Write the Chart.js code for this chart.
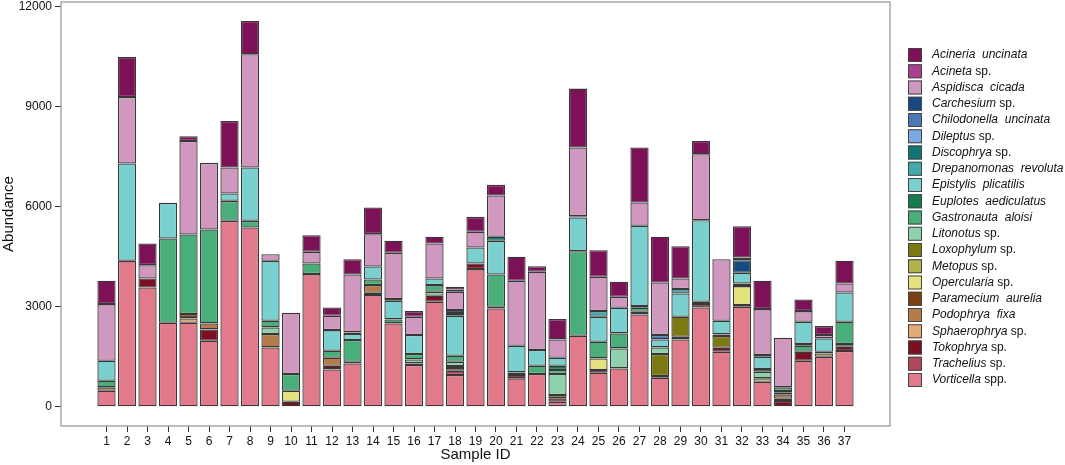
<!DOCTYPE html>
<html>
<head>
<meta charset="utf-8">
<script src="https://cdn.jsdelivr.net/npm/chart.js@4.4.0/dist/chart.umd.min.js"></script>
<style>
html,body{margin:0;padding:0;background:#fff;}
#wrap{width:1065px;height:465px;position:relative;}
</style>
</head>
<body>
<div id="wrap"><canvas id="c" width="1065" height="465"></canvas></div>
<script>
// ---------- DATA ----------
const sampleIds = [1,2,3,4,5,6,7,8,9,10,11,12,13,14,15,16,17,18,19,20,21,22,23,24,25,26,27,28,29,30,31,32,33,34,35,36,37];
const yTickValues = [0,3000,6000,9000,12000];

// legend order (top of legend to bottom); [italic part, upright suffix]
const speciesNames = [
  ["Acineria  uncinata",""],
  ["Acineta"," sp."],
  ["Aspidisca  cicada",""],
  ["Carchesium"," sp."],
  ["Chilodonella  uncinata",""],
  ["Dileptus"," sp."],
  ["Discophrya"," sp."],
  ["Drepanomonas  revoluta",""],
  ["Epistylis  plicatilis",""],
  ["Euplotes  aediculatus",""],
  ["Gastronauta  aloisi",""],
  ["Litonotus"," sp."],
  ["Loxophylum"," sp."],
  ["Metopus"," sp."],
  ["Opercularia"," sp."],
  ["Paramecium  aurelia",""],
  ["Podophrya  fixa",""],
  ["Sphaerophrya"," sp."],
  ["Tokophrya"," sp."],
  ["Trachelius"," sp."],
  ["Vorticella"," spp."]
];
const speciesColors = [
  "#7d1158","#a8428e","#d097bf","#184a80","#4a78b4","#7aa8e0","#137575",
  "#44a9ab","#7acfcf","#157a4c","#4aae7a","#8fd0ad","#7b7912","#b2b24a",
  "#e3e27c","#7b4112","#b47c4b","#e4ab7a","#7c1023","#b0475a","#e17a8a"
];

const acineria     = [700,1200,650,0,140,0,1400,1000,0,0, 500,250,460,800,360,170,200,80,450,320, 720,170,610,1770,800,450,1650,1370,970,400, 0,940,850,0,350,270,680];
const acineta      = [0,0,0,0,0,0,0,0,0,0, 0,0,0,0,0,0,0,70,0,0, 0,0,0,0,0,0,0,0,0,0, 0,0,0,0,0,0,0];
const aspidisca    = [1700,2000,400,0,2810,2000,780,3400,200,1840, 350,430,1740,970,1390,550,1050,550,470,1240, 1950,2350,550,2060,1030,330,700,1580,320,1980, 1850,80,1380,1490,320,100,270];
const carchesium   = [0,0,0,0,0,0,0,0,0,0, 0,0,0,0,0,0,0,90,0,0, 0,0,0,0,0,0,0,0,0,0, 0,380,0,0,0,0,0];
const chilodonella = [0,0,0,0,0,0,0,0,0,0, 0,0,0,0,0,0,0,0,0,0, 0,0,0,0,0,0,0,130,0,0, 0,0,0,0,0,0,0];
const dileptus     = [0,0,0,0,0,0,0,0,0,0, 0,0,0,0,0,0,0,0,0,0, 0,0,0,0,0,0,0,0,0,0, 0,0,0,0,0,0,0];
const discophrya   = [0,0,0,0,0,0,0,0,0,0, 0,0,50,0,50,0,0,80,0,120, 0,0,0,40,0,0,0,0,0,0, 0,0,50,0,0,0,0];
const drepanomonas = [0,0,0,0,0,0,0,0,0,0, 0,0,0,0,0,0,0,0,0,0, 0,0,0,0,170,0,0,0,130,0, 0,0,0,0,0,0,0];
const epistylis    = [600,2920,0,1070,0,0,220,1600,1800,0, 0,620,180,390,560,570,200,1200,480,1010, 800,470,240,1010,750,770,2410,240,700,2450, 410,320,370,0,670,400,880];
const euplotes     = [0,0,0,0,0,0,0,0,0,0, 0,0,0,0,0,0,0,0,0,0, 80,0,130,0,0,0,50,0,0,70, 50,80,80,0,50,50,0];
const gastronauta  = [200,0,0,2530,2390,2820,600,200,200,500, 320,210,650,170,120,160,200,180,0,970, 0,250,120,2540,500,450,120,0,0,0, 0,0,0,110,180,0,670];
const litonotus    = [0,0,0,0,0,0,0,0,200,0, 0,0,0,0,0,120,120,130,0,0, 0,0,630,0,0,600,0,200,0,0, 0,0,200,40,0,0,80];
const loxophylum   = [0,0,0,0,0,0,0,0,0,0, 0,0,0,0,0,0,0,0,0,0, 0,0,100,0,0,0,0,660,600,0, 350,0,0,0,0,0,0];
const metopus      = [0,0,0,0,0,0,0,0,0,0, 0,0,0,0,0,0,0,0,0,0, 0,0,0,0,0,0,0,0,0,0, 0,0,0,0,0,100,0];
const opercularia  = [0,0,0,0,0,0,0,0,0,330, 0,0,0,0,0,0,0,0,0,0, 0,0,0,0,350,0,80,0,0,0, 0,570,100,60,0,0,0];
const paramecium   = [0,0,0,0,130,0,0,0,0,0, 0,0,0,0,0,0,0,0,0,0, 0,0,0,0,0,0,0,0,0,0, 0,50,0,0,0,0,0];
const podophrya    = [100,0,0,0,0,180,0,0,400,0, 0,240,0,230,0,0,0,60,0,0, 0,0,0,0,0,0,0,0,0,0, 0,0,0,130,0,0,0];
const sphaerophrya = [0,0,0,0,130,0,0,0,0,0, 0,0,0,0,0,0,0,80,0,0, 0,0,0,0,0,0,0,0,0,0, 0,0,0,70,0,0,0];
const tokophrya    = [0,0,270,0,0,340,0,0,0,150, 0,110,50,70,0,50,180,0,170,50, 100,0,100,0,80,0,0,50,80,100, 120,0,0,170,270,0,130];
const trachelius   = [0,0,0,0,0,0,0,0,0,0, 0,0,0,0,0,0,0,130,0,0, 0,0,0,0,0,0,0,0,0,0, 0,0,0,0,0,0,0];
const vorticella   = [480,4380,3580,2520,2520,1980,5580,5380,1780,0, 3980,1120,1300,3350,2500,1250,3150,950,4130,2950, 850,980,150,2130,1020,1150,2770,870,2020,2980, 1650,3000,750,0,1380,1500,1670];

// same order as speciesNames
const speciesValues = [acineria,acineta,aspidisca,carchesium,chilodonella,dileptus,discophrya,
  drepanomonas,epistylis,euplotes,gastronauta,litonotus,loxophylum,metopus,opercularia,
  paramecium,podophrya,sphaerophrya,tokophrya,trachelius,vorticella];

// ---------- CHART ----------
const FONT = '"Liberation Sans", Arial, Helvetica, sans-serif';

// stack from bottom (Vorticella) to top (Acineria)
const datasets = [];
for (let i = speciesNames.length - 1; i >= 0; i--) {
  datasets.push({
    label: speciesNames[i][0] + speciesNames[i][1],
    data: speciesValues[i].map(v => v === 0 ? null : v),
    backgroundColor: speciesColors[i],
    borderColor: '#383838',
    borderWidth: 1.3,
    borderSkipped: false,
    barPercentage: 0.89,
    categoryPercentage: 1.0
  });
}

const framePlugin = {
  id: 'frame',
  afterDatasetsDraw(chart) {
    const {ctx, chartArea: a} = chart;
    ctx.save();
    ctx.strokeStyle = '#9a9a9a';
    ctx.lineWidth = 1.3;
    ctx.strokeRect(a.left, a.top, a.right - a.left, a.bottom - a.top);
    ctx.restore();
  }
};

const legendPlugin = {
  id: 'customLegend',
  afterDraw(chart) {
    const ctx = chart.ctx;
    const x0 = 908, y0 = 55, dy = 16.25, box = 14, tx = 932;
    ctx.save();
    ctx.textBaseline = 'middle';
    for (let i = 0; i < speciesNames.length; i++) {
      const y = y0 + i * dy;
      ctx.fillStyle = speciesColors[i];
      ctx.fillRect(x0, y - box / 2, box, box);
      ctx.strokeStyle = '#444';
      ctx.lineWidth = 1;
      ctx.strokeRect(x0 + 0.5, y - box / 2 + 0.5, box - 1, box - 1);
      ctx.fillStyle = '#111';
      ctx.font = 'italic 12px ' + FONT;
      ctx.fillText(speciesNames[i][0], tx, y);
      const w = ctx.measureText(speciesNames[i][0]).width;
      if (speciesNames[i][1]) {
        ctx.font = '12px ' + FONT;
        ctx.fillText(speciesNames[i][1], tx + w, y);
      }
    }
    ctx.restore();
  }
};

new Chart(document.getElementById('c'), {
  type: 'bar',
  data: { labels: sampleIds, datasets },
  options: {
    responsive: false,
    animation: false,
    devicePixelRatio: 1,
    layout: { padding: { left: 0, right: 175, top: 2, bottom: 0 } },
    plugins: { legend: { display: false }, tooltip: { enabled: false } },
    scales: {
      x: {
        type: 'linear',
        stacked: true,
        min: -1.22,
        max: 39.22,
        offset: false,
        grid: { display: true, offset: false, drawOnChartArea: false, drawTicks: true, tickLength: 6, color: '#333', lineWidth: 1 },
        border: { display: false },
        ticks: { autoSkip: false, maxRotation: 0, color: '#111', font: { family: FONT, size: 12 }, padding: 2,
                 callback: v => String(v) },
        afterBuildTicks: s => { s.ticks = sampleIds.map(v => ({ value: v })); },
        afterFit: s => { s.height = 39; s.paddingLeft = 0; s.paddingRight = 0; },
        title: { display: true, text: 'Sample ID', color: '#111', font: { family: FONT, size: 15 }, padding: { top: 0, bottom: 1 } }
      },
      y: {
        type: 'linear',
        stacked: true,
        min: -580,
        max: 12150,
        grid: { display: true, drawOnChartArea: false, drawTicks: true, tickLength: 6, color: '#333', lineWidth: 1 },
        border: { display: false },
        ticks: { color: '#111', font: { family: FONT, size: 12 }, padding: 3, callback: v => String(v) },
        afterBuildTicks: s => { s.ticks = yTickValues.map(v => ({ value: v })); },
        afterFit: s => { s.width = 61; s.paddingTop = 0; s.paddingBottom = 0; },
        title: { display: true, text: 'Abundance', color: '#111', font: { family: FONT, size: 15 }, padding: { top: 0, bottom: 0 } }
      }
    }
  },
  plugins: [framePlugin, legendPlugin]
});
</script>
</body>
</html>
